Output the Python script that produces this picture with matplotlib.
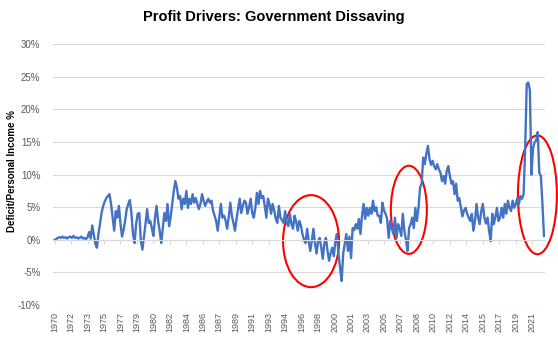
import numpy as np
import pandas as pd
import matplotlib
matplotlib.use("Agg")
import matplotlib.pyplot as plt
from matplotlib.patches import Ellipse

# federal deficit as % of personal income, sampled every 2 months from Jun 1970
start_month = "1970-06-01"
step_months = 2
deficit_pct = [
    0.0, 0.1, 0.3, 0.4, 0.3, 0.5, 0.3, 0.4, 0.2, 0.4, 0.5, 0.3, 0.6, 0.3, 0.4, 0.2, 0.3, 0.5, 0.2, 0.3, 0.1, 0.4,
    1.2, 0.2, 2.2, 0.8, -0.6, -1.2, 1.0, 2.5, 4.2, 5.2, 5.9, 6.4, 6.7, 7.0, 5.5, 3.5, 1.4, 4.4, 3.4, 5.2,
    2.5, 0.5, 1.5, 3.0, 4.7, 5.5, 6.1, 4.0, 0.9, -0.5, 2.5, 4.0, 4.1, -0.2, -1.5, 0.5, 2.5, 4.7, 2.6, 2.9,
    1.8, 0.6, 3.4, 5.2, 2.9, 1.4, -0.5, 1.8, 4.1, 2.9, 5.5, 2.1, 3.5, 5.5, 7.5, 9.0, 8.0, 6.3, 6.7, 4.7,
    6.3, 5.5, 7.5, 4.9, 6.3, 5.5, 7.0, 5.7, 6.4, 5.5, 4.7, 5.5, 7.0, 6.0, 5.2, 5.8, 6.3, 5.7, 6.0, 4.5,
    3.7, 2.9, 1.4, 3.5, 5.5, 3.4, 3.7, 3.0, 1.7, 3.4, 5.7, 3.7, 2.6, 1.4, 3.2, 4.7, 6.3, 4.1, 5.2, 6.0,
    5.7, 4.0, 5.0, 6.3, 4.1, 3.4, 4.9, 7.2, 5.5, 7.5, 6.4, 6.7, 5.2, 3.4, 6.3, 5.5, 4.0, 5.5, 4.5, 3.2,
    2.6, 5.2, 3.4, 3.0, 2.6, 4.4, 2.6, 2.1, 4.0, 2.4, 1.7, 3.7, 2.8, 1.4, 2.9, 2.2, 0.9, 0.0, -0.5, 1.7,
    -0.2, -1.7, -0.2, 1.7, -0.5, -2.1, -0.2, 0.3, -1.2, -2.9, -0.5, 0.3, -1.7, -3.2, -2.0, -1.2, -2.5, -0.2, 0.9, -2.1,
    -4.3, -6.3, -2.1, -0.6, 0.9, -1.7, 0.5, -2.8, 1.8, 1.5, 2.4, 1.7, 3.2, 0.9, 3.7, 5.5, 3.2, 4.9, 3.7, 4.9,
    4.0, 6.0, 4.4, 5.0, 3.7, 3.7, 2.6, 5.7, 4.5, 4.0, 3.2, 0.3, 2.9, 1.8, 0.9, 3.4, 0.3, 2.4, 1.7, 0.6,
    4.0, 1.4, 0.0, -1.7, 1.8, 2.4, 3.4, 1.8, 4.9, 2.9, 4.9, 8.0, 8.6, 12.6, 11.6, 13.2, 14.4, 12.4, 11.5, 12.1,
    11.3, 10.8, 11.6, 10.8, 10.3, 9.0, 9.8, 8.6, 10.6, 11.3, 9.8, 8.6, 9.0, 7.0, 8.6, 6.0, 6.4, 5.0, 3.6, 4.5,
    4.9, 4.0, 3.4, 2.9, 4.0, 1.4, 2.9, 5.5, 3.4, 2.4, 4.4, 5.5, 3.4, 2.5, 3.4, 1.4, -0.2, 4.0, 2.4, 3.5,
    4.9, 2.9, 3.4, 4.9, 3.4, 5.5, 4.0, 6.0, 4.9, 4.4, 6.0, 4.9, 5.5, 6.4, 5.5, 6.7, 6.3, 7.0, 14.0, 23.9,
    24.1, 23.0, 10.0, 14.0, 15.0, 15.2, 16.5, 10.3, 9.8, 5.5, 0.6,
]

# category labels every 21 months, as the spreadsheet axis skips them
label_every = 21
n_labels = 30
y_ticks = list(range(-10, 31, 5))

GRID = "#D9D9D9"
TXT = "#595959"

plt.rcParams['font.family'] = ['Liberation Sans', 'DejaVu Sans']

fig = plt.figure(figsize=(5.58, 3.39), dpi=100)
ax = fig.add_axes([0.095, 0.100, 0.882, 0.770])

months = np.arange(len(deficit_pct)) * step_months
ax.plot(months, deficit_pct, color="#4472C4", lw=1.7, solid_joinstyle="round")

ax.set_ylim(-10, 30)
ax.set_yticks(y_ticks, [f"{v}%" for v in y_ticks])
ax.set_xlim(-2, 625.5)
ax.yaxis.grid(True, color=GRID, lw=0.8)
ax.set_axisbelow(True)
for s in ["top", "right", "left"]:
    ax.spines[s].set_visible(False)
ax.spines["bottom"].set_position(("data", 0))
ax.spines["bottom"].set_color(GRID)
ax.tick_params(axis="y", length=0, labelsize=7, labelcolor=TXT, pad=9)

tick_pos = np.arange(n_labels) * label_every
tick_years = pd.date_range(start_month, periods=n_labels, freq=f"{label_every}MS").year
ax.set_xticks(tick_pos)
ax.tick_params(axis="x", length=3, color=GRID, labelbottom=False)

# labels sit at the bottom of the plot, not on the zero line
sec = ax.secondary_xaxis("bottom")
sec.set_xticks(tick_pos, [str(y) for y in tick_years])
sec.tick_params(length=0, labelsize=6.5, labelcolor=TXT, pad=5, rotation=90)
sec.spines["bottom"].set_visible(False)

# red circles around the periods of interest
for cx, cy, w, h in [(327, -0.2, 71.4, 14.1), (451.7, 4.6, 45.9, 13.5), (615.6, 6.9, 49.7, 18.2)]:
    ax.add_patch(Ellipse((cx, cy), w, h, fill=False, ec="#FF0000", lw=1.5, clip_on=False))

fig.text(0.49, 0.95, "Profit Drivers: Government Dissaving", ha="center", va="center",
         fontsize=10.5, fontweight="bold")
fig.text(0.022, 0.496, "Deficit/Personal Income %", rotation=90, ha="center", va="center",
         fontsize=7, fontweight="bold")

fig.savefig("out.png", dpi=100)
